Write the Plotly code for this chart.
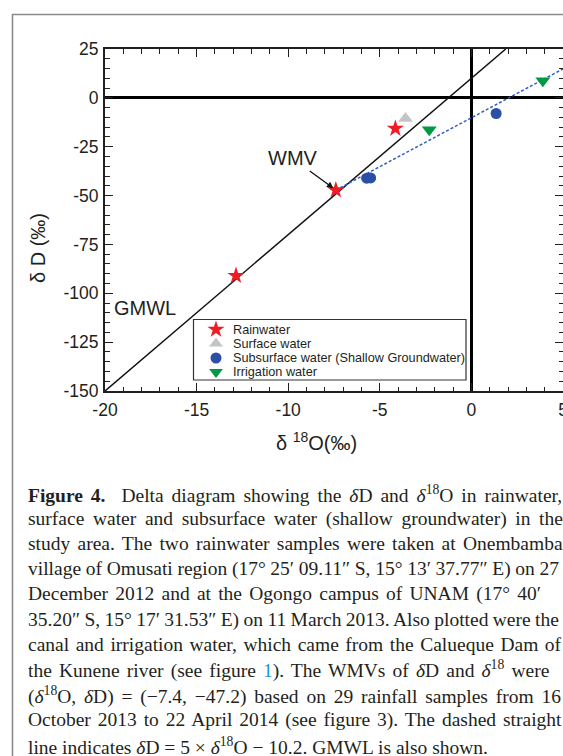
import re
import plotly.graph_objects as go

# ---------------- data ----------------
rain_x = [-12.85, -4.15, -7.4]
rain_y = [-91.0, -15.7, -47.2]
surf_x = [-3.6]
surf_y = [-10.6]
sub_x = [-5.72, -5.5, 1.35]
sub_y = [-41.1, -41.0, -8.0]
irr_x = [-2.3, 3.9]
irr_y = [-16.3, 8.7]

gmwl_x = [-20.0, 1.875]
gmwl_y = [-150.0, 25.0]
fit_x = [-7.4, 5.0]
fit_y = [-47.2, 14.8]

x_tickvals = [-20, -15, -10, -5, 0, 5]
x_ticktext = ["-20", "-15", "-10", "-5", "0", "5"]
y_tickvals = [25, 0, -25, -50, -75, -100, -125, -150]
y_ticktext = ["25", "0", "-25", "-50", "-75", "-100", "-125", "-150"]

legend_names = ["Rainwater", "Surface water",
                "Subsurface water (Shallow Groundwater)", "Irrigation water"]
legend_symbols = ["star", "triangle-up", "circle", "triangle-down"]
legend_colors = ["#ee1c25", "#c4c4c4", "#2a4fa5", "#009944"]
legend_sizes = [13, 12, 11, 12]

caption_lines = [
    "<b>Figure 4.</b>\u00a0\u00a0Delta diagram showing the <i>δ</i>D and <i>δ</i><sup>18</sup>O in rainwater,",
    "surface water and subsurface water (shallow groundwater) in the",
    "study area. The two rainwater samples were taken at Onembamba",
    "village of Omusati region (17° 25′ 09.11″ S, 15° 13′ 37.77″ E) on 27",
    "December 2012 and at the Ogongo campus of UNAM (17° 40′",
    "35.20″ S, 15° 17′ 31.53″ E) on 11 March 2013. Also plotted were the",
    "canal and irrigation water, which came from the Calueque Dam of",
    "the Kunene river (see figure <span style='color:#1b95d4'>1</span>). The WMVs of <i>δ</i>D and <i>δ</i><sup>18</sup> were",
    "(<i>δ</i><sup>18</sup>O, <i>δ</i>D) = (−7.4, −47.2) based on 29 rainfall samples from 16",
    "October 2013 to 22 April 2014 (see figure 3). The dashed straight",
    "line indicates <i>δ</i>D = 5 × <i>δ</i><sup>18</sup>O − 10.2. GMWL is also shown.",
]
# right edge (px) each caption line is justified to (None = ragged)
caption_right = [558, 561, 561, 561, 540, 561, 560, 549, 560, 561, None]

# ---------------- layout constants ----------------
W, H = 563, 756
ML, MR, MT, MB = 105, 0, 49, 365
PW, PH = W - ML - MR, H - MT - MB
SANS = "Liberation Sans, Arial, sans-serif"
SERIF = "Liberation Serif, Times New Roman, serif"
INK = "#231f20"
CAP_SIZE = 19.5
CAP_LEFT = 26


def px_x(p):
    return (p - ML) / PW


def px_y(p):
    return 1 - (p - MT) / PH


# approximate Times advance widths (per 1000 em) to justify caption lines
_TW = {' ': 250, '\u00a0': 250, '!': 333, '(': 333, ')': 333, ',': 250, '-': 333,
       '.': 250, ':': 278, ';': 278, '=': 564, '0': 500, '1': 500, '2': 500,
       '3': 500, '4': 500, '5': 500, '6': 500, '7': 500, '8': 500, '9': 500,
       'A': 722, 'B': 667, 'C': 667, 'D': 722, 'E': 611, 'F': 556, 'G': 722,
       'H': 722, 'I': 333, 'J': 389, 'K': 722, 'L': 611, 'M': 889, 'N': 722,
       'O': 722, 'P': 556, 'Q': 722, 'R': 667, 'S': 556, 'T': 611, 'U': 722,
       'V': 722, 'W': 944, 'X': 722, 'Y': 722, 'Z': 611, 'a': 444, 'b': 500,
       'c': 444, 'd': 500, 'e': 444, 'f': 333, 'g': 500, 'h': 500, 'i': 278,
       'j': 278, 'k': 500, 'l': 278, 'm': 778, 'n': 500, 'o': 500, 'p': 500,
       'q': 500, 'r': 333, 's': 389, 't': 278, 'u': 500, 'v': 500, 'w': 722,
       'x': 500, 'y': 500, 'z': 444, 'δ': 490, '°': 400, '′': 270, '″': 450,
       '×': 564, '−': 564}


def text_width(markup, size):
    total = 0.0
    scale = 1.0
    for tok in re.split(r"(<[^>]+>)", markup):
        if tok.startswith("<"):
            t = tok.lower()
            if t.startswith("<sup"):
                scale = 0.7
            elif t.startswith("</sup"):
                scale = 1.0
            continue
        for ch in tok:
            total += _TW.get(ch, 500) * scale
    return total * size / 1000.0


def n_spaces(markup):
    plain = re.sub(r"<[^>]+>", "", markup)
    return plain.count(" ") + plain.count("\u00a0")


fig = go.Figure()

# lines
fig.add_trace(go.Scatter(x=gmwl_x, y=gmwl_y, mode="lines",
                         line=dict(color="#111111", width=1.5), showlegend=False,
                         hoverinfo="skip"))
fig.add_trace(go.Scatter(x=fit_x, y=fit_y, mode="lines",
                         line=dict(color="#2f5fc4", width=1.5, dash="3px,2px"),
                         showlegend=False, hoverinfo="skip"))

# markers
series = [(rain_x, rain_y), (surf_x, surf_y), (sub_x, sub_y), (irr_x, irr_y)]
marker_sizes = [13, 13, 11, 13]
for (xs, ys), name, sym, col, sz in zip(series, legend_names, legend_symbols,
                                         legend_colors, marker_sizes):
    fig.add_trace(go.Scatter(x=xs, y=ys, mode="markers", name=name,
                             marker=dict(symbol=sym, color=col, size=sz,
                                         line=dict(width=0)),
                             showlegend=False))

# manual legend (pixel-unit overlay axes)
leg_box = dict(x0=193.5, x1=466, y0=319.5, y1=380)
leg_sym_x = 216
leg_text_x = 231
leg_rows = [329.5, 343.5, 358.0, 372.0]
for name, sym, col, sz, ry in zip(legend_names, legend_symbols, legend_colors,
                                  legend_sizes, leg_rows):
    fig.add_trace(go.Scatter(x=[leg_sym_x], y=[ry], xaxis="x2", yaxis="y2",
                             mode="markers", showlegend=False, hoverinfo="skip",
                             marker=dict(symbol=sym, color=col, size=sz,
                                         line=dict(width=0))))

annotations = []
for name, ry in zip(legend_names, leg_rows):
    annotations.append(dict(xref="x2", yref="y2", x=leg_text_x, y=ry, text=name,
                            showarrow=False, xanchor="left", yanchor="middle",
                            font=dict(family=SANS, size=12.7, color=INK)))

shapes = [
    dict(type="rect", xref="x2", yref="y2", x0=leg_box["x0"], x1=leg_box["x1"],
         y0=leg_box["y0"], y1=leg_box["y1"], line=dict(color="#333333", width=1.2),
         fillcolor="rgba(255,255,255,0)", layer="above"),
    # outer grey frame of the figure panel
    dict(type="rect", xref="paper", yref="paper", x0=px_x(12.5), x1=px_x(600),
         y0=px_y(800), y1=px_y(14.5), line=dict(color="#8c8c8c", width=1.6),
         fillcolor="rgba(0,0,0,0)", layer="below"),
]

# in-plot labels
annotations.append(dict(x=-7.4, y=-47.2, ax=-9.75, ay=-31.0, axref="x", ayref="y",
                        text="WMV", showarrow=True, arrowhead=2, arrowsize=1,
                        arrowwidth=1.3, arrowcolor="#111111", standoff=3,
                        font=dict(family=SANS, size=20, color=INK)))
annotations.append(dict(x=-17.8, y=-107.5, text="GMWL", showarrow=False,
                        xanchor="center", yanchor="middle",
                        font=dict(family=SANS, size=20, color=INK)))

# axis titles
annotations.append(dict(xref="paper", yref="paper", x=px_x(316), y=px_y(441),
                        text="δ <sup>18</sup>O(‰)", showarrow=False,
                        xanchor="center", yanchor="middle",
                        font=dict(family=SANS, size=20, color=INK)))
annotations.append(dict(xref="paper", yref="paper", x=px_x(38), y=px_y(248),
                        text="δ D (‰)", showarrow=False, textangle=-90,
                        xanchor="center", yanchor="middle",
                        font=dict(family=SANS, size=20, color=INK)))

# caption (justified with word-spacing)
for i, (line, right) in enumerate(zip(caption_lines, caption_right)):
    txt = line
    if right is not None:
        natural = text_width(line, CAP_SIZE)
        ns = n_spaces(line)
        ws = (right - CAP_LEFT - natural) / ns if ns else 0.0
        txt = "<span style='word-spacing:%.2fpx'>%s</span>" % (ws, line)
    annotations.append(dict(xref="paper", yref="paper", x=px_x(CAP_LEFT),
                            y=px_y(493.5 + 25.2 * i), text=txt, showarrow=False,
                            xanchor="left", yanchor="middle",
                            font=dict(family=SERIF, size=CAP_SIZE, color=INK)))

axis_common = dict(showline=True, linewidth=2, linecolor=INK, mirror="ticks",
                   ticks="inside", tickcolor=INK, tickwidth=1.3, ticklen=8,
                   showgrid=False, zeroline=True, zerolinecolor="#000000",
                   zerolinewidth=2.6, tickfont=dict(family=SANS, size=17.5, color=INK),
                   ticklabeloverflow="allow")

fig.update_layout(
    width=W, height=H, margin=dict(l=ML, r=MR, t=MT, b=MB, autoexpand=False),
    paper_bgcolor="white", plot_bgcolor="white", showlegend=False,
    xaxis=dict(range=[-20, 5], tickvals=x_tickvals, ticktext=x_ticktext,
               minor=dict(dtick=1, tick0=0, ticks="inside", ticklen=4.5,
                          tickcolor=INK, tickwidth=1.2, showgrid=False),
               ticklabelstandoff=2, **axis_common),
    yaxis=dict(range=[-150, 25], tickvals=y_tickvals, ticktext=y_ticktext,
               minor=dict(dtick=5, tick0=0, ticks="inside", ticklen=4.5,
                          tickcolor=INK, tickwidth=1.2, showgrid=False),
               ticklabelstandoff=1, **axis_common),
    xaxis2=dict(overlaying="x", range=[ML, W - MR], visible=False, fixedrange=True),
    yaxis2=dict(overlaying="y", range=[H - MB, MT], visible=False, fixedrange=True),
    annotations=annotations,
    shapes=shapes,
)

fig.write_html("out.html")
